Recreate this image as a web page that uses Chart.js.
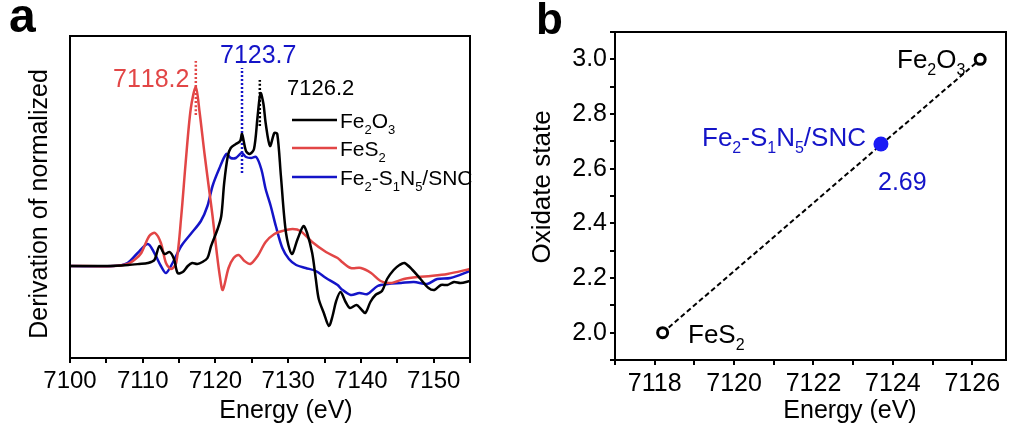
<!DOCTYPE html>
<html>
<head>
<meta charset="utf-8">
<script src="https://cdn.jsdelivr.net/npm/chart.js@4/dist/chart.umd.min.js"></script>
<style>
    body { margin: 0; background: #fff; }
    #wrap { position: relative; width: 1014px; height: 428px; }
    canvas { position: absolute; top: 0; }
    #chart-a { left: 0; }
    #chart-b { left: 500px; }
</style>
</head>
<body>
<div id="wrap">
    <canvas id="chart-a" width="500" height="428"></canvas>
    <canvas id="chart-b" width="514" height="428"></canvas>
</div>
<script>
// Panel a - derivative spectra (arbitrary units)
const energyFe2O3 = [7100, 7105, 7108, 7109.5, 7110.7, 7111.6, 7112.3, 7113.0, 7113.7, 7114.3, 7114.8, 7115.5, 7116.2, 7116.8, 7117.5, 7118.2, 7118.9, 7119.4, 7120.3, 7120.8, 7121.2, 7121.7, 7122.1, 7122.8, 7123.4, 7123.65, 7124.2, 7124.7, 7125.3, 7125.8, 7126.2, 7126.6, 7126.9, 7127.5, 7128.1, 7128.5, 7129.0, 7129.7, 7130.5, 7131.3, 7132.1, 7132.6, 7133.3, 7133.8, 7134.2, 7134.9, 7135.6, 7136.1, 7136.6, 7137.2, 7137.9, 7138.5, 7139.4, 7140.0, 7140.6, 7141.3, 7142.0, 7142.9, 7143.6, 7144.5, 7145.3, 7146.0, 7147.1, 7148.2, 7149.3, 7150.1, 7151.0, 7151.9, 7152.8, 7153.7, 7155];
const valuesFe2O3 = [0, 0, 0.01, 0.02, 0.03, 0.06, 0.20, 0.12, 0.14, 0.07, -0.07, -0.06, 0.0, 0.03, 0.02, 0.04, 0.08, 0.20, 0.37, 0.50, 0.83, 1.10, 1.18, 1.22, 1.25, 1.32, 1.15, 1.12, 1.17, 1.50, 1.73, 1.62, 1.43, 1.20, 1.33, 1.32, 0.90, 0.33, 0.12, 0.27, 0.40, 0.33, 0.13, -0.13, -0.33, -0.47, -0.60, -0.50, -0.35, -0.26, -0.36, -0.42, -0.39, -0.43, -0.47, -0.36, -0.29, -0.25, -0.13, -0.04, 0.01, 0.03, -0.04, -0.13, -0.22, -0.24, -0.19, -0.19, -0.16, -0.17, -0.15];

const energyFeS2 = [7100, 7106, 7107.9, 7109.0, 7109.8, 7110.9, 7111.7, 7112.5, 7113.2, 7113.9, 7114.6, 7115.3, 7115.9, 7116.6, 7117.3, 7117.8, 7118.5, 7119.1, 7119.6, 7120.2, 7120.6, 7121.0, 7121.8, 7122.5, 7123.2, 7124.0, 7124.8, 7125.8, 7126.9, 7128.1, 7129.2, 7130.6, 7131.7, 7133.3, 7135.2, 7136.8, 7137.4, 7138.6, 7140.0, 7141.4, 7142.7, 7144.1, 7145.9, 7147.8, 7149.6, 7151.9, 7155];
const valuesFeS2 = [0, 0, 0.02, 0.07, 0.13, 0.30, 0.33, 0.23, 0.03, -0.03, 0.03, 0.50, 1.03, 1.57, 1.79, 1.55, 1.12, 0.78, 0.50, 0.12, -0.10, -0.24, -0.02, 0.08, 0.11, 0.05, 0.02, 0.10, 0.24, 0.32, 0.35, 0.37, 0.35, 0.24, 0.14, 0.08, 0.04, -0.02, -0.02, -0.07, -0.15, -0.17, -0.13, -0.11, -0.10, -0.08, -0.03];

const energySample = [7100, 7106, 7107.9, 7109.3, 7110.7, 7111.6, 7112.5, 7113.2, 7114.1, 7115.3, 7116.6, 7118.0, 7118.9, 7119.6, 7120.5, 7121.5, 7122.1, 7122.8, 7123.6, 7124.2, 7124.9, 7125.6, 7126.3, 7126.9, 7127.6, 7128.3, 7129.2, 7130.1, 7131.1, 7132.4, 7133.8, 7135.2, 7136.8, 7137.3, 7138.6, 7139.8, 7140.9, 7142.3, 7143.7, 7145.5, 7147.3, 7149.1, 7150.5, 7152.3, 7155];
const valuesSample = [0, 0, 0.03, 0.13, 0.22, 0.13, 0.0, -0.07, 0.03, 0.20, 0.32, 0.45, 0.60, 0.80, 0.97, 1.12, 1.08, 1.08, 1.13, 1.09, 1.08, 1.09, 0.97, 0.77, 0.60, 0.40, 0.18, 0.07, 0.01, -0.02, -0.05, -0.12, -0.19, -0.23, -0.29, -0.27, -0.28, -0.20, -0.18, -0.17, -0.16, -0.18, -0.13, -0.12, -0.05];

// peak markers: energy, dotted line from / to
const peakEnergies = [7117.3, 7123.65, 7126.1];
const peakLabels = ['7118.2', '7123.7', '7126.2'];
const peakLineTop = [2.06, 1.98, 1.87];
const peakLineBottom = [1.51, 0.93, 1.40];

// Panel b - oxidation state vs edge energy
const refNames = ['FeS_2', 'Fe_2O_3'];
const refEnergy = [7118.2, 7126.2];
const refOxidation = [2.0, 3.0];
const sampleName = 'Fe_2-S_1N_5/SNC';
const sampleEnergy = [7123.7];
const sampleOxidation = [2.69];

const BLACK = '#000000';
const RED = '#e24646';
const BLUE = '#1414c8';
const FONT = '"Liberation Sans", Arial, sans-serif';

function toPoints(xs, ys) {
    return xs.map((x, i) => ({ x: x, y: ys[i] }));
}

// text with "_x" subscripts
function drawRich(ctx, text, x, y, size, color, align) {
    const parts = [];
    for (let i = 0; i < text.length; i++) {
        if (text[i] === '_' && i + 1 < text.length) {
            parts.push([text[i + 1], true]);
            i++;
        } else {
            parts.push([text[i], false]);
        }
    }
    const subSize = Math.round(size * 0.62);
    let width = 0;
    parts.forEach(p => {
        ctx.font = (p[1] ? subSize : size) + 'px ' + FONT;
        width += ctx.measureText(p[0]).width;
    });
    let cx = align === 'center' ? x - width / 2 : (align === 'right' ? x - width : x);
    ctx.save();
    ctx.fillStyle = color;
    ctx.textAlign = 'left';
    ctx.textBaseline = 'alphabetic';
    parts.forEach(p => {
        ctx.font = (p[1] ? subSize : size) + 'px ' + FONT;
        ctx.fillText(p[0], cx, p[1] ? y + size * 0.28 : y);
        cx += ctx.measureText(p[0]).width;
    });
    ctx.restore();
}

function drawText(ctx, text, x, y, font, color, rotate) {
    ctx.save();
    ctx.font = font;
    ctx.fillStyle = color;
    ctx.textAlign = 'center';
    ctx.textBaseline = 'middle';
    ctx.translate(x, y);
    if (rotate) ctx.rotate(-Math.PI / 2);
    ctx.fillText(text, 0, 0);
    ctx.restore();
}

// Box round the plot area
const framePlugin = {
    id: 'frame',
    afterDatasetsDraw(chart) {
        const a = chart.chartArea;
        const ctx = chart.ctx;
        ctx.save();
        ctx.strokeStyle = BLACK;
        ctx.lineWidth = 2;
        ctx.strokeRect(a.left, a.top, a.right - a.left, a.bottom - a.top);
        ctx.restore();
    }
};

document.addEventListener('DOMContentLoaded', function() {
    Chart.defaults.font.family = FONT;
    Chart.defaults.color = BLACK;

    // ---------- Panel a ----------
    const peakColors = [RED, BLUE, BLACK];
    const datasetsA = [
        { data: toPoints(energyFe2O3, valuesFe2O3), borderColor: BLACK, borderWidth: 2.5 },
        { data: toPoints(energyFeS2, valuesFeS2), borderColor: RED, borderWidth: 2.5 },
        { data: toPoints(energySample, valuesSample), borderColor: BLUE, borderWidth: 2.5 }
    ];
    peakEnergies.forEach((e, i) => {
        datasetsA.push({
            data: [{ x: e, y: peakLineBottom[i] }, { x: e, y: peakLineTop[i] }],
            borderColor: peakColors[i],
            borderWidth: 2.5,
            borderDash: [2, 2]
        });
    });

    const annotateA = {
        id: 'annotateA',
        afterDraw(chart) {
            const ctx = chart.ctx;
            // peak labels
            drawRich(ctx, peakLabels[0], 113, 87, 25, RED, 'left');
            drawRich(ctx, peakLabels[1], 220, 63, 25, BLUE, 'left');
            drawRich(ctx, peakLabels[2], 287, 95, 22, BLACK, 'left');
            // legend
            const names = ['Fe_2O_3', 'FeS_2', 'Fe_2-S_1N_5/SNC'];
            const colors = [BLACK, RED, BLUE];
            const rows = [120, 148, 177];
            names.forEach((n, i) => {
                ctx.save();
                ctx.strokeStyle = colors[i];
                ctx.lineWidth = 2.5;
                ctx.beginPath();
                ctx.moveTo(292, rows[i]);
                ctx.lineTo(337, rows[i]);
                ctx.stroke();
                ctx.restore();
                drawRich(ctx, n, 340, rows[i] + 8, 21, BLACK, 'left');
            });
            // axis titles and panel letter
            drawText(ctx, 'Energy (eV)', 286, 411, '25px ' + FONT, BLACK, false);
            drawText(ctx, 'Derivation of normalized', 40, 204, '25px ' + FONT, BLACK, true);
            ctx.save();
            ctx.font = 'bold 48px ' + FONT;
            ctx.fillStyle = BLACK;
            ctx.textBaseline = 'alphabetic';
            ctx.fillText('a', 9, 32);
            ctx.restore();
        }
    };

    new Chart(document.getElementById('chart-a'), {
        type: 'line',
        data: { datasets: datasetsA },
        options: {
            responsive: false,
            animation: false,
            devicePixelRatio: 1,
            layout: { padding: { top: 36, right: 30, left: 0, bottom: 0 } },
            elements: { point: { radius: 0 }, line: { tension: 0.3, fill: false } },
            plugins: { legend: { display: false }, tooltip: { enabled: false } },
            scales: {
                x: {
                    type: 'linear',
                    min: 7100,
                    max: 7155,
                    afterFit: s => { s.height = 70; },
                    grid: { drawOnChartArea: false, drawTicks: true, tickLength: 5, color: BLACK, lineWidth: 2 },
                    border: { color: BLACK, width: 2 },
                    ticks: {
                        stepSize: 5,
                        autoSkip: false,
                        maxRotation: 0,
                        padding: 4,
                        font: { size: 24 },
                        color: BLACK,
                        callback: v => (v % 10 === 0 ? String(v) : '')
                    }
                },
                y: {
                    min: -0.92,
                    max: 2.3,
                    afterFit: s => { s.width = 70; },
                    grid: { drawOnChartArea: false, drawTicks: false },
                    border: { color: BLACK, width: 2 },
                    ticks: { display: false }
                }
            }
        },
        plugins: [framePlugin, annotateA]
    });

    // ---------- Panel b ----------
    const annotateB = {
        id: 'annotateB',
        afterDraw(chart) {
            const ctx = chart.ctx;
            drawRich(ctx, refNames[1], 397, 68, 26, BLACK, 'left');
            drawRich(ctx, refNames[0], 188, 343, 26, BLACK, 'left');
            drawRich(ctx, sampleName, 202, 146, 26, BLUE, 'left');
            drawRich(ctx, sampleOxidation[0].toFixed(2), 378, 190, 25, BLUE, 'left');
            drawText(ctx, 'Energy (eV)', 350, 411, '25px ' + FONT, BLACK, false);
            drawText(ctx, 'Oxidate state', 43, 187, '26px ' + FONT, BLACK, true);
            ctx.save();
            ctx.font = 'bold 44px ' + FONT;
            ctx.fillStyle = BLACK;
            ctx.textBaseline = 'alphabetic';
            ctx.fillText('b', 36, 34);
            ctx.restore();
        }
    };

    // points first so they sit on top of the dashed fit line
    new Chart(document.getElementById('chart-b'), {
        type: 'scatter',
        data: {
            datasets: [
                {
                    data: toPoints(sampleEnergy, sampleOxidation),
                    pointRadius: 7.5,
                    pointBorderWidth: 0,
                    pointBorderColor: '#1a1af5',
                    pointBackgroundColor: '#1a1af5'
                },
                {
                    data: toPoints(refEnergy, refOxidation),
                    pointRadius: 5,
                    pointBorderWidth: 3,
                    pointBorderColor: BLACK,
                    pointBackgroundColor: '#ffffff'
                },
                {
                    data: toPoints(refEnergy, refOxidation),
                    showLine: true,
                    borderColor: BLACK,
                    borderWidth: 2,
                    borderDash: [5, 3],
                    pointRadius: 0
                }
            ]
        },
        options: {
            responsive: false,
            animation: false,
            devicePixelRatio: 1,
            layout: { padding: { top: 32, right: 1, left: 0, bottom: 0 } },
            plugins: { legend: { display: false }, tooltip: { enabled: false } },
            scales: {
                x: {
                    type: 'linear',
                    min: 7117,
                    max: 7126.85,
                    afterFit: s => { s.height = 68; },
                    grid: { drawOnChartArea: false, drawTicks: true, tickLength: 5, color: BLACK, lineWidth: 2 },
                    border: { color: BLACK, width: 2 },
                    ticks: {
                        stepSize: 1,
                        includeBounds: false,
                        autoSkip: false,
                        maxRotation: 0,
                        padding: 4,
                        font: { size: 25 },
                        color: BLACK,
                        callback: v => (Math.round(v) % 2 === 0 ? String(Math.round(v)) : '')
                    }
                },
                y: {
                    min: 1.9,
                    max: 3.1,
                    afterFit: s => { s.width = 115; },
                    grid: { drawOnChartArea: false, drawTicks: true, tickLength: 5, color: BLACK, lineWidth: 2 },
                    border: { color: BLACK, width: 2 },
                    ticks: {
                        stepSize: 0.1,
                        includeBounds: false,
                        autoSkip: false,
                        padding: 3,
                        font: { size: 25 },
                        color: BLACK,
                        callback: function(v) {
                            const r = Math.round(v * 10);
                            return r % 2 === 0 ? (r / 10).toFixed(1) : '';
                        }
                    }
                }
            }
        },
        plugins: [framePlugin, annotateB]
    });
});
</script>
</body>
</html>
